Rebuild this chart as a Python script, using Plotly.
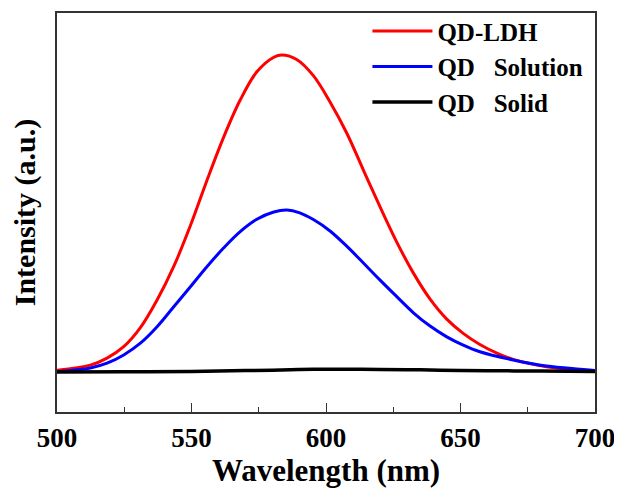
import plotly.graph_objects as go

wavelength_ldh = [500, 512.4, 518.6, 524.8, 531.0, 537.2, 543.4, 549.6, 555.8, 562.0, 568.1, 574.3,
                  580.6, 583.6, 589.1, 595.3, 601.5, 607.7, 613.9, 620.1, 626.3, 632.5, 638.7,
                  644.9, 651.0, 657.2, 663.5, 669.6, 682.0, 694.4, 700]
intensity_ldh = [0.006, 0.022, 0.044, 0.080, 0.140, 0.227, 0.333, 0.462, 0.606, 0.742, 0.858, 0.947,
                 0.993, 1.000, 0.986, 0.935, 0.852, 0.754, 0.637, 0.521, 0.410, 0.312, 0.230,
                 0.167, 0.122, 0.087, 0.060, 0.040, 0.017, 0.006, 0.003]

wavelength_sol = [500, 512.4, 518.6, 524.8, 531.0, 537.2, 543.4, 549.6, 555.8, 562.0, 568.1, 574.3,
                  580.6, 585.5, 590.0, 595.3, 601.5, 607.7, 613.9, 620.1, 626.3, 632.5, 638.7, 644.9,
                  651.0, 657.2, 669.6, 682.0, 694.4, 700]
intensity_sol = [0.001, 0.013, 0.028, 0.054, 0.091, 0.143, 0.206, 0.269, 0.333, 0.392, 0.443, 0.482,
                 0.505, 0.511, 0.503, 0.481, 0.445, 0.397, 0.344, 0.290, 0.238, 0.187, 0.145, 0.111,
                 0.085, 0.064, 0.038, 0.019, 0.009, 0.005]

wavelength_solid = [500, 525, 550, 565, 580, 590, 600, 610, 620, 635, 650, 665, 680, 700]
intensity_solid = [0.000, 0.001, 0.002, 0.004, 0.006, 0.008, 0.009, 0.009, 0.008, 0.007, 0.005, 0.004, 0.003, 0.002]

series_names = ["QD-LDH", "QD\u00a0\u00a0\u00a0Solution", "QD\u00a0\u00a0\u00a0Solid"]
x_ticks = [500, 550, 600, 650, 700]

font_family = "Liberation Serif"

fig = go.Figure()
fig.add_trace(go.Scatter(x=wavelength_ldh, y=intensity_ldh, mode="lines", name=series_names[0],
                         line=dict(color="#ff0000", width=3, shape="spline", smoothing=1.0)))
fig.add_trace(go.Scatter(x=wavelength_sol, y=intensity_sol, mode="lines", name=series_names[1],
                         line=dict(color="#0000ff", width=3, shape="spline", smoothing=1.0)))
fig.add_trace(go.Scatter(x=wavelength_solid, y=intensity_solid, mode="lines", name=series_names[2],
                         line=dict(color="#000000", width=3.5, shape="spline", smoothing=1.0)))

# the page body has an 8px default margin; size the figure to the visible window
fig.update_layout(
    width=614, height=481,
    margin=dict(l=49, r=27, t=5, b=77, autoexpand=False),
    paper_bgcolor="white", plot_bgcolor="white",
    font=dict(family=font_family, color="black"),
    showlegend=True,
    legend=dict(x=0.577, y=1.012, xanchor="left", yanchor="top",
                bgcolor="rgba(0,0,0,0)",
                font=dict(family=font_family, size=25, color="black", weight="bold"),
                itemwidth=60, tracegroupgap=0),
)
fig.update_xaxes(
    range=[500, 700], tickvals=x_ticks, ticktext=[str(v) for v in x_ticks],
    ticks="inside", ticklen=9, tickwidth=1.2, tickcolor="#333",
    minor=dict(dtick=25, tick0=500, ticks="inside", ticklen=5, tickwidth=1.2, tickcolor="#333"),
    showline=True, linecolor="#333", linewidth=1.5, mirror=True,
    showgrid=False, zeroline=False, automargin=False,
    tickfont=dict(family=font_family, size=27, color="black", weight="bold"),
    ticklabelstandoff=1, ticklabeloverflow="allow",
    title=dict(text="Wavelength (nm)", font=dict(family=font_family, size=31, color="black", weight="bold"), standoff=0),
)
fig.update_yaxes(
    range=[-0.126, 1.1325], showticklabels=False, ticks="",
    showline=True, linecolor="#333", linewidth=1.5, mirror=True,
    showgrid=False, zeroline=False, automargin=False,
    title=dict(text="Intensity (a.u.)", font=dict(family=font_family, size=30, color="black", weight="bold"), standoff=13),
)

fig.write_html("out.html")
